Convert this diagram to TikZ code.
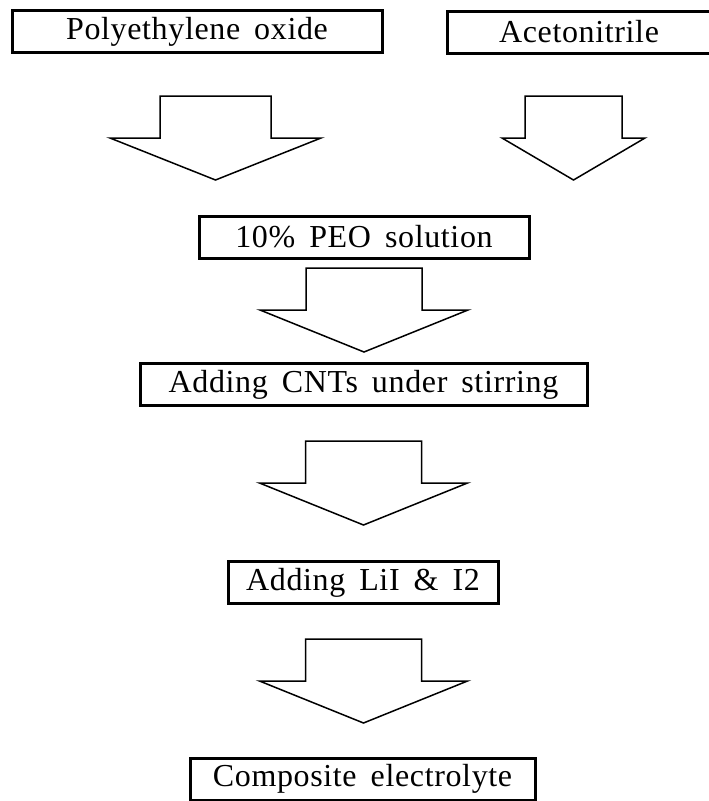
\documentclass[tikz,border=0pt]{standalone}
\usepackage{fontspec}
\setmainfont{Liberation Serif}
\newfontfamily\boxfont[LetterSpace=2]{Liberation Serif}
\usetikzlibrary{positioning}

\newcommand{\widespace}{\spaceskip=14pt\relax}
\tikzset{
  stagebox/.style={draw, line width=3pt, inner sep=0pt, minimum height=42pt,
    font=\boxfont\fontsize{32}{38}\selectfont\widespace},
  blockarrow/.style={draw, line width=1.5pt, line join=miter}
}
% block arrow: centre x, top y, half shaft width, half head width
\newcommand{\flowarrow}[4]{%
  \draw[blockarrow] (#1-#3,#2) -- (#1+#3,#2) -- (#1+#3,#2+42) -- (#1+#4,#2+42)
    -- (#1,#2+84) -- (#1-#4,#2+42) -- (#1-#3,#2+42) -- cycle;}

\begin{document}
\begin{tikzpicture}[x=1pt, y=-1pt]
\useasboundingbox (0,0) rectangle (709,801);

% Starting materials
\node[stagebox, minimum width=370pt] (peo) at (197,31.5) {Polyethylene oxide};
\node[stagebox, minimum width=264pt] (acn) at (579,32) {Acetonitrile};

% Steps
\node[stagebox, minimum width=330pt] (sol) at (364,237) {10\% PEO solution};
\node[stagebox, minimum width=447pt] (cnt) at (363.5,384.5) {Adding CNTs under stirring};
\node[stagebox, minimum width=270pt] (lii) at (363,582.5) {Adding LiI \& I2};
\node[stagebox, minimum width=345pt] (cpe) at (362.5,779) {Composite electrolyte};

% Arrows
\flowarrow{215.5}{96}{55.5}{105.5}
\flowarrow{573.5}{96}{48.5}{71.5}
\flowarrow{364}{268}{58}{104}
\flowarrow{363.5}{441}{58}{104}
\flowarrow{363.5}{639}{58}{104}
\end{tikzpicture}
\end{document}
